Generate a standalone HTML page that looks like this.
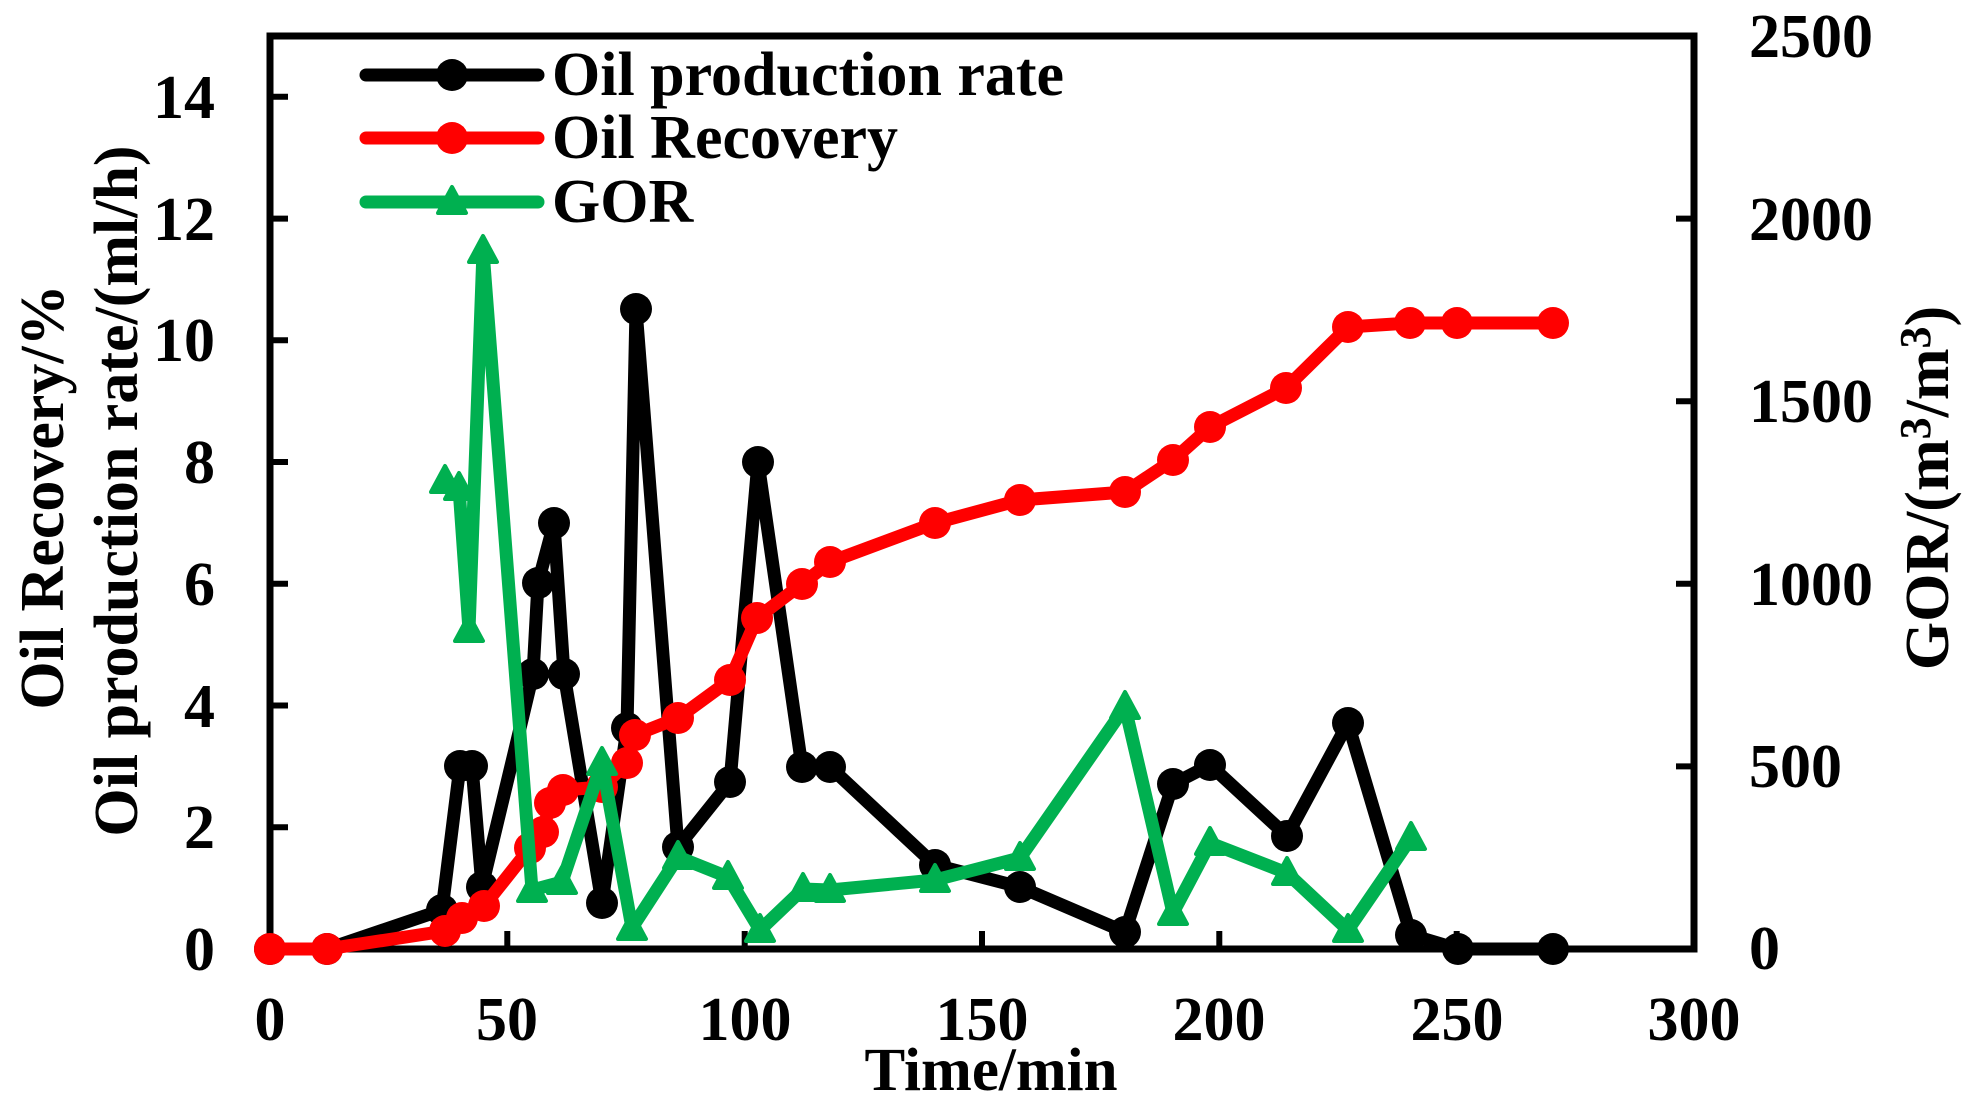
<!DOCTYPE html>
<html>
<head>
<meta charset="utf-8">
<style>
  html, body { margin: 0; padding: 0; background: #ffffff; }
  svg { display: block; }
  text { font-family: "Liberation Serif", "Times New Roman", serif; font-weight: bold; fill: #000; }
</style>
</head>
<body>
<svg width="1978" height="1105" viewBox="0 0 1978 1105" xmlns="http://www.w3.org/2000/svg">
  <rect x="0" y="0" width="1978" height="1105" fill="#ffffff"/>

  <!-- Axes box -->
  <rect x="270" y="36" width="1424" height="913" fill="none" stroke="#000" stroke-width="7"/>

  <!-- Left ticks -->
  <g stroke="#000" stroke-width="6">
    <line x1="270" y1="827.3" x2="288" y2="827.3"/>
    <line x1="270" y1="705.5" x2="288" y2="705.5"/>
    <line x1="270" y1="583.8" x2="288" y2="583.8"/>
    <line x1="270" y1="462.0" x2="288" y2="462.0"/>
    <line x1="270" y1="340.3" x2="288" y2="340.3"/>
    <line x1="270" y1="218.6" x2="288" y2="218.6"/>
    <line x1="270" y1="96.8" x2="288" y2="96.8"/>
    <!-- Right ticks -->
    <line x1="1676" y1="766.4" x2="1694" y2="766.4"/>
    <line x1="1676" y1="583.8" x2="1694" y2="583.8"/>
    <line x1="1676" y1="401.2" x2="1694" y2="401.2"/>
    <line x1="1676" y1="218.6" x2="1694" y2="218.6"/>
    <!-- Bottom ticks -->
    <line x1="507.3" y1="931" x2="507.3" y2="949"/>
    <line x1="744.7" y1="931" x2="744.7" y2="949"/>
    <line x1="982" y1="931" x2="982" y2="949"/>
    <line x1="1219.3" y1="931" x2="1219.3" y2="949"/>
    <line x1="1456.7" y1="931" x2="1456.7" y2="949"/>
  </g>

  <!-- Left tick labels -->
  <g font-size="62" text-anchor="end">
    <text x="215" y="970">0</text>
    <text x="215" y="848">2</text>
    <text x="215" y="727">4</text>
    <text x="215" y="605">6</text>
    <text x="215" y="483">8</text>
    <text x="215" y="361">10</text>
    <text x="215" y="240">12</text>
    <text x="215" y="118">14</text>
  </g>

  <!-- Right tick labels -->
  <g font-size="62" text-anchor="start">
    <text x="1749" y="969">0</text>
    <text x="1749" y="787">500</text>
    <text x="1749" y="605">1000</text>
    <text x="1749" y="422">1500</text>
    <text x="1749" y="240">2000</text>
    <text x="1749" y="57">2500</text>
  </g>

  <!-- Bottom tick labels -->
  <g font-size="62" text-anchor="middle">
    <text x="270" y="1040">0</text>
    <text x="507" y="1040">50</text>
    <text x="745" y="1040">100</text>
    <text x="982" y="1040">150</text>
    <text x="1219" y="1040">200</text>
    <text x="1457" y="1040">250</text>
    <text x="1694" y="1040">300</text>
  </g>

  <!-- Axis titles -->
  <text x="991" y="1090" font-size="61" text-anchor="middle">Time/min</text>
  <text transform="translate(63,497) rotate(-90)" font-size="62" text-anchor="middle">Oil Recovery/%</text>
  <text transform="translate(137,491) rotate(-90)" font-size="62" text-anchor="middle">Oil production rate/(ml/h)</text>
  <text transform="translate(1948,488) rotate(-90)" font-size="62" text-anchor="middle">GOR/(m<tspan font-size="44" dy="-18">3</tspan><tspan dy="18">/m</tspan><tspan font-size="44" dy="-18">3</tspan><tspan dy="18">)</tspan></text>

  <!-- Oil production rate (black) -->
  <g>
    <polyline fill="none" stroke="#000" stroke-width="13" stroke-linejoin="round" stroke-linecap="round"
      points="270,949 327,949 442,910 460,766 472,766 482,887 533,674 538,583 554,523 564,674 602,903 627,728 636,309 678,847 730,782 758,462 802,767 830,767 935,865 1020,887 1125,932 1173,784 1210,765 1287,836 1348,723 1411,935 1458,949 1553,949"/>
    <g fill="#000">
      <circle cx="270" cy="949" r="16"/><circle cx="327" cy="949" r="16"/><circle cx="442" cy="910" r="16"/>
      <circle cx="460" cy="766" r="16"/><circle cx="472" cy="766" r="16"/><circle cx="482" cy="887" r="16"/>
      <circle cx="533" cy="674" r="16"/><circle cx="538" cy="583" r="16"/><circle cx="554" cy="523" r="16"/>
      <circle cx="564" cy="674" r="16"/><circle cx="602" cy="903" r="16"/><circle cx="627" cy="728" r="16"/>
      <circle cx="636" cy="309" r="16"/><circle cx="678" cy="847" r="16"/><circle cx="730" cy="782" r="16"/>
      <circle cx="758" cy="462" r="16"/><circle cx="802" cy="767" r="16"/><circle cx="830" cy="767" r="16"/>
      <circle cx="935" cy="865" r="16"/><circle cx="1020" cy="887" r="16"/><circle cx="1125" cy="932" r="16"/>
      <circle cx="1173" cy="784" r="16"/><circle cx="1210" cy="765" r="16"/><circle cx="1287" cy="836" r="16"/>
      <circle cx="1348" cy="723" r="16"/><circle cx="1411" cy="935" r="16"/><circle cx="1458" cy="949" r="16"/>
      <circle cx="1553" cy="949" r="16"/>
    </g>
  </g>

  <!-- Oil Recovery (red) -->
  <g>
    <polyline fill="none" stroke="#ff0000" stroke-width="13" stroke-linejoin="round" stroke-linecap="round"
      points="270,949 327,949 445,931 462,918 484,906 530,848 543,832 550,803 563,790 602,787 627,763 635,735 678,718 730,680 757,618 802,584 830,562 935,523 1020,500 1125,492 1173,460 1210,427 1286,388 1348,327 1410,323 1457,323 1553,323"/>
    <g fill="#ff0000">
      <circle cx="270" cy="949" r="16"/><circle cx="327" cy="949" r="16"/><circle cx="445" cy="931" r="16"/>
      <circle cx="462" cy="918" r="16"/><circle cx="484" cy="906" r="16"/><circle cx="530" cy="848" r="16"/>
      <circle cx="543" cy="832" r="16"/><circle cx="550" cy="803" r="16"/><circle cx="563" cy="790" r="16"/>
      <circle cx="602" cy="787" r="16"/><circle cx="627" cy="763" r="16"/><circle cx="635" cy="735" r="16"/>
      <circle cx="678" cy="718" r="16"/><circle cx="730" cy="680" r="16"/><circle cx="757" cy="618" r="16"/>
      <circle cx="802" cy="584" r="16"/><circle cx="830" cy="562" r="16"/><circle cx="935" cy="523" r="16"/>
      <circle cx="1020" cy="500" r="16"/><circle cx="1125" cy="492" r="16"/><circle cx="1173" cy="460" r="16"/>
      <circle cx="1210" cy="427" r="16"/><circle cx="1286" cy="388" r="16"/><circle cx="1348" cy="327" r="16"/>
      <circle cx="1410" cy="323" r="16"/><circle cx="1457" cy="323" r="16"/><circle cx="1553" cy="323" r="16"/>
    </g>
  </g>

  <!-- GOR (green) -->
  <defs>
    <polygon id="tri" points="0,-15 14,11 -14,11" fill="#00b050" stroke="#00b050" stroke-width="4" stroke-linejoin="round"/>
  </defs>
  <g>
    <polyline fill="none" stroke="#00b050" stroke-width="13" stroke-linejoin="round" stroke-linecap="round"
      points="445,481 459,488 469,630 483,251 532,890 562,882 602,763 632,928 678,857 728,877 760,930 803,889 830,890 935,880 1020,858 1125,707 1173,913 1210,843 1287,873 1348,930 1411,838"/>
    <use href="#tri" x="445" y="481"/><use href="#tri" x="459" y="488"/><use href="#tri" x="469" y="630"/>
    <use href="#tri" x="483" y="251"/><use href="#tri" x="532" y="890"/><use href="#tri" x="562" y="882"/>
    <use href="#tri" x="602" y="763"/><use href="#tri" x="632" y="928"/><use href="#tri" x="678" y="857"/>
    <use href="#tri" x="728" y="877"/><use href="#tri" x="760" y="930"/><use href="#tri" x="803" y="889"/>
    <use href="#tri" x="830" y="890"/><use href="#tri" x="935" y="880"/><use href="#tri" x="1020" y="858"/>
    <use href="#tri" x="1125" y="707"/><use href="#tri" x="1173" y="913"/><use href="#tri" x="1210" y="843"/>
    <use href="#tri" x="1287" y="873"/><use href="#tri" x="1348" y="930"/><use href="#tri" x="1411" y="838"/>
  </g>

  <!-- Legend -->
  <g stroke-linecap="round" stroke-width="13">
    <line x1="366" y1="75" x2="538" y2="75" stroke="#000"/>
    <line x1="366" y1="138" x2="538" y2="138" stroke="#ff0000"/>
    <line x1="366" y1="202" x2="538" y2="202" stroke="#00b050"/>
  </g>
  <circle cx="452" cy="75" r="16" fill="#000"/>
  <circle cx="452" cy="138" r="16" fill="#ff0000"/>
  <use href="#tri" x="452" y="202"/>
  <g font-size="62">
    <text x="552" y="95">Oil production rate</text>
    <text x="552" y="158">Oil Recovery</text>
    <text x="552" y="222">GOR</text>
  </g>
</svg>
</body>
</html>
